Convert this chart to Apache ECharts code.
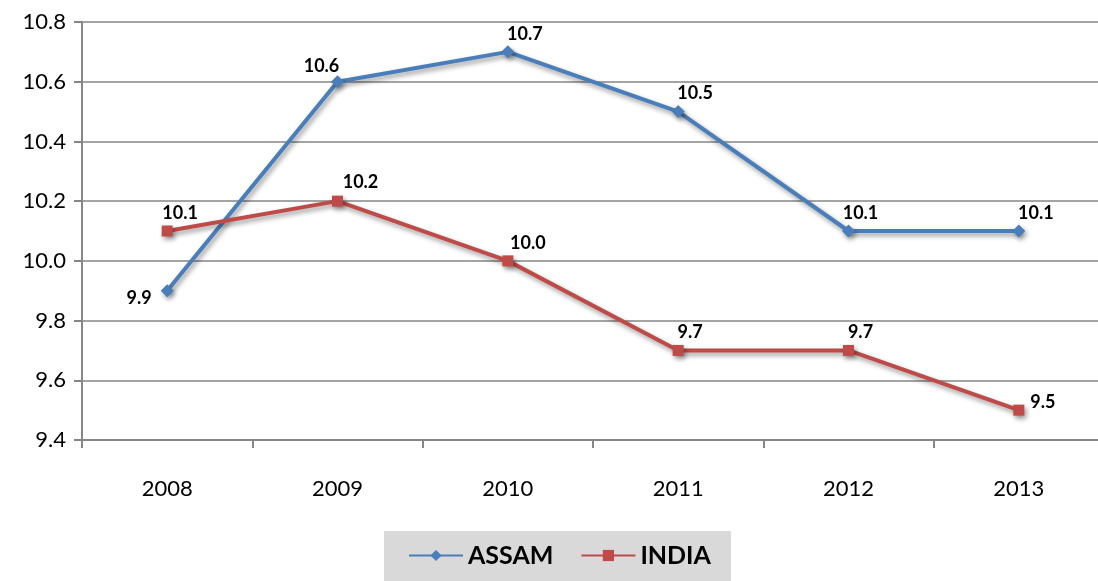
<!DOCTYPE html>
<html>
<head>
<meta charset="utf-8">
<script src="https://cdn.jsdelivr.net/npm/echarts@6/dist/echarts.min.js"></script>
<style>
  html, body { margin: 0; padding: 0; background: #fff; }
  #chart { width: 1098px; height: 581px; }
</style>
</head>
<body>
<div id="chart"></div>
<script>
// values
const years = ["2008", "2009", "2010", "2011", "2012", "2013"];
const assam = [9.9, 10.6, 10.7, 10.5, 10.1, 10.1];
const india = [10.1, 10.2, 10.0, 9.7, 9.7, 9.5];
const assamLabelOffsets = [[-28, 7], [-16, -16], [17, -18], [17, -18], [12, -18], [17, -18]];
const indiaLabelOffsets = [[13, -18], [23, -19], [20, -18], [12, -18], [12, -18], [24, -8]];

const shadow = {
  shadowColor: "rgba(0,0,0,0.4)",
  shadowBlur: 5,
  shadowOffsetX: 2,
  shadowOffsetY: 3,
};

const withLabels = (vals, offsets) =>
  vals.map((v, i) => ({
    value: v,
    label: { offset: offsets[i] },
  }));

const labelStyle = {
  show: true,
  position: "inside",
  fontFamily: "Lato",
  fontWeight: "bold",
  fontSize: 18,
  color: "#000",
  formatter: (p) => p.value.toFixed(1),
};

const chart = echarts.init(document.getElementById("chart"));
chart.setOption({
  animation: false,
  grid: { left: 82, top: 22, width: 1022, height: 418, containLabel: false, outerBoundsMode: "none" },
  legend: {
    left: 384,
    top: 531,
    padding: [12, 20, 14, 24],
    backgroundColor: "#d9d9d9",
    itemWidth: 54,
    itemHeight: 14,
    itemGap: 27,
    textStyle: { fontFamily: "Lato", fontWeight: "bold", fontSize: 25, color: "#000" },
    data: ["ASSAM", "INDIA"],
  },
  xAxis: {
    type: "category",
    data: years,
    boundaryGap: true,
    axisLine: { lineStyle: { color: "#868686", width: 2 } },
    axisTick: { show: true, length: 8, lineStyle: { color: "#868686", width: 2 } },
    axisLabel: { margin: 38, fontFamily: "Lato", fontSize: 22, color: "#000" },
  },
  yAxis: {
    type: "value",
    min: 9.4,
    max: 10.8,
    interval: 0.2,
    axisLine: { show: true, lineStyle: { color: "#868686", width: 2 } },
    axisTick: { show: true, length: 8, lineStyle: { color: "#868686", width: 2 } },
    axisLabel: {
      margin: 16,
      fontFamily: "Lato",
      fontSize: 22,
      color: "#000",
      formatter: (v) => v.toFixed(1),
    },
    splitLine: { lineStyle: { color: "#868686", width: 1.5 } },
  },
  series: [
    {
      name: "ASSAM",
      type: "line",
      data: withLabels(assam, assamLabelOffsets),
      symbol: "diamond",
      symbolSize: 13,
      color: "#4a7ebb",
      lineStyle: Object.assign({ width: 4, color: "#4a7ebb" }, shadow),
      itemStyle: Object.assign({ color: "#4a7ebb" }, shadow),
      label: labelStyle,
    },
    {
      name: "INDIA",
      type: "line",
      data: withLabels(india, indiaLabelOffsets),
      symbol: "rect",
      symbolSize: 11,
      color: "#be4b48",
      lineStyle: Object.assign({ width: 4, color: "#be4b48" }, shadow),
      itemStyle: Object.assign({ color: "#be4b48" }, shadow),
      label: labelStyle,
    },
  ],
});
</script>
</body>
</html>
